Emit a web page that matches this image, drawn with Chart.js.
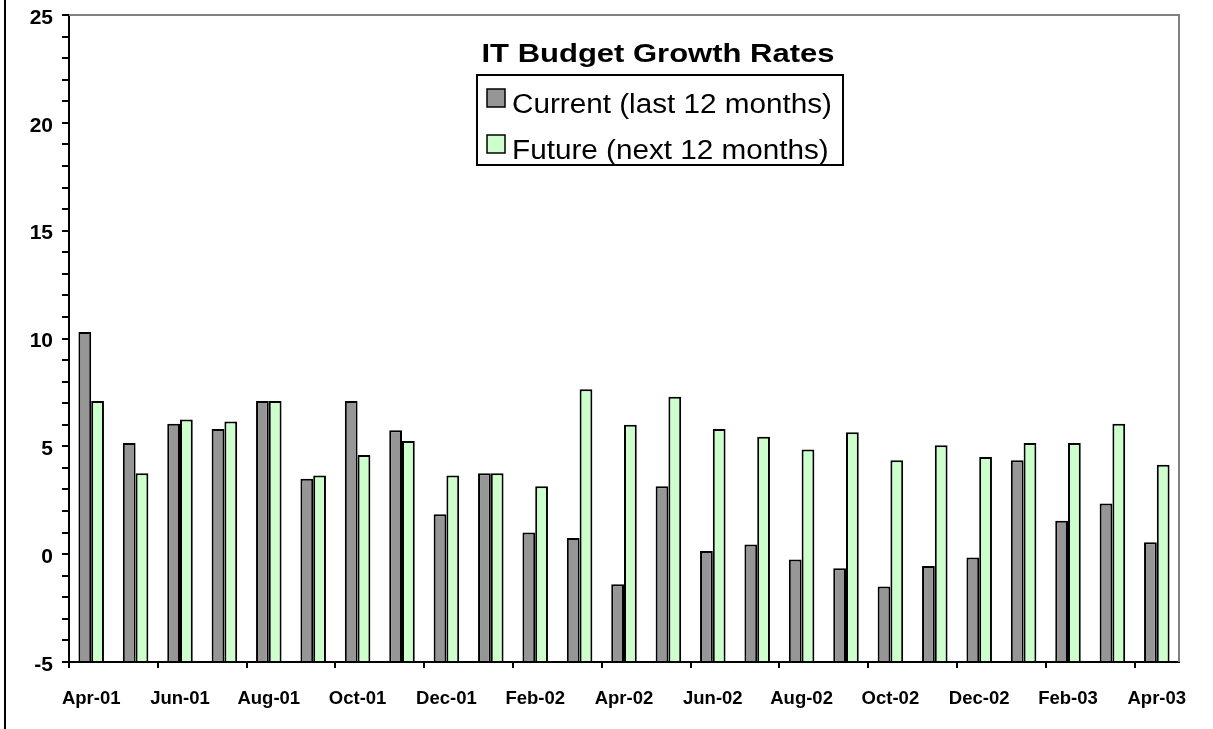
<!DOCTYPE html>
<html>
<head>
<meta charset="utf-8">
<script src="https://cdn.jsdelivr.net/npm/chart.js@4"></script>
<style>
  body { margin: 0; background: #fff; }
  canvas { display: block; }
</style>
</head>
<body>
<canvas id="budget-chart" width="1213" height="729"></canvas>
<script>
// months, Apr-01 .. Apr-03
const months = ['Apr-01', 'May-01', 'Jun-01', 'Jul-01', 'Aug-01', 'Sep-01', 'Oct-01', 'Nov-01',
  'Dec-01', 'Jan-02', 'Feb-02', 'Mar-02', 'Apr-02', 'May-02', 'Jun-02', 'Jul-02', 'Aug-02',
  'Sep-02', 'Oct-02', 'Nov-02', 'Dec-02', 'Jan-03', 'Feb-03', 'Mar-03', 'Apr-03'];

// growth rates
const currentRates = [10.3, 5.15, 6.05, 5.8, 7.1, 3.5, 7.1, 5.75, 1.85, 3.75, 1.0, 0.75, -1.4,
  3.15, 0.15, 0.45, -0.25, -0.65, -1.5, -0.55, -0.15, 4.35, 1.55, 2.35, 0.55];
const futureRates = [7.1, 3.75, 6.25, 6.15, 7.1, 3.65, 4.6, 5.25, 3.65, 3.75, 3.15, 7.65, 6.0,
  7.3, 5.8, 5.45, 4.85, 5.65, 4.35, 5.05, 4.5, 5.15, 5.15, 6.05, 4.15];

const chartTitle = 'IT Budget Growth Rates';
const seriesNames = ['Current (last 12 months)', 'Future (next 12 months)'];

// draws the title + boxed legend inside the plot, plus the grey plot frame
const excelFrame = {
  id: 'excelFrame',
  afterDraw(chart) {
    const ctx = chart.ctx;
    const a = chart.chartArea;
    ctx.save();

    ctx.strokeStyle = '#808080';
    ctx.lineWidth = 2;
    ctx.beginPath();
    ctx.moveTo(a.left, a.top);
    ctx.lineTo(a.right, a.top);
    ctx.lineTo(a.right, a.bottom);
    ctx.stroke();

    ctx.strokeStyle = '#000';
    ctx.beginPath();
    ctx.moveTo(5, 0);
    ctx.lineTo(5, chart.height);
    ctx.stroke();

    // title
    ctx.fillStyle = '#000';
    ctx.textBaseline = 'alphabetic';
    ctx.font = 'bold 25px "Liberation Sans", Arial, sans-serif';
    let w = ctx.measureText(chartTitle).width;
    let sx = 353 / w;
    ctx.save();
    ctx.translate(658 - 353 / 2, 62);
    ctx.scale(sx, 1);
    ctx.fillText(chartTitle, 0, 0);
    ctx.restore();

    // legend box
    ctx.fillStyle = '#fff';
    ctx.fillRect(477, 75, 366, 90);
    ctx.strokeStyle = '#000';
    ctx.lineWidth = 2;
    ctx.strokeRect(477, 75, 366, 90);

    ctx.font = '27px "Liberation Sans", Arial, sans-serif';
    sx = 320 / ctx.measureText(seriesNames[0]).width;
    const rows = [89, 135];
    chart.data.datasets.forEach((ds, i) => {
      const y = rows[i];
      ctx.fillStyle = ds.backgroundColor;
      ctx.fillRect(487, y, 18, 18);
      ctx.lineWidth = 1.5;
      ctx.strokeRect(487, y, 18, 18);
      ctx.fillStyle = '#000';
      ctx.save();
      ctx.translate(512, y + 24);
      ctx.scale(sx, 1);
      ctx.fillText(ds.label, 0, 0);
      ctx.restore();
    });

    ctx.restore();
  }
};

const el = document.getElementById('budget-chart');
new Chart(el, {
  type: 'bar',
  data: {
    labels: months,
    datasets: [{
      label: seriesNames[0],
      data: currentRates,
      base: -5,
      backgroundColor: '#969696',
      borderColor: '#000',
      borderWidth: 2
    }, {
      label: seriesNames[1],
      data: futureRates,
      base: -5,
      backgroundColor: '#CCFFCC',
      borderColor: '#000',
      borderWidth: 2
    }]
  },
  options: {
    responsive: false,
    animation: false,
    devicePixelRatio: 1,
    layout: { padding: { top: 15, right: 34, left: 0, bottom: 0 } },
    datasets: {
      bar: { categoryPercentage: 0.575, barPercentage: 1.0 }
    },
    plugins: {
      legend: { display: false },
      title: { display: false },
      tooltip: { enabled: false }
    },
    scales: {
      x: {
        offset: true,
        afterFit(scale) {
          scale.height = 67;
          scale.paddingLeft = 0;
          scale.paddingRight = 0;
        },
        border: { color: '#000', width: 2 },
        grid: {
          offset: true,
          drawOnChartArea: false,
          tickLength: 6,
          lineWidth: 2,
          color: c => (c.index % 2 === 0 ? '#000' : 'rgba(0,0,0,0)')
        },
        ticks: {
          autoSkip: false,
          maxRotation: 0,
          padding: 20,
          color: '#000',
          font: { family: '"Liberation Sans", Arial, sans-serif', size: 18.5, weight: 'bold' },
          callback(v, i) { return i % 2 === 0 ? this.getLabelForValue(v) : ''; }
        }
      },
      y: {
        min: -5,
        max: 25,
        afterFit(scale) {
          scale.width = 69;
          scale.paddingTop = 0;
          scale.paddingBottom = 0;
        },
        border: { color: '#000', width: 2 },
        grid: {
          drawOnChartArea: false,
          tickLength: 7,
          lineWidth: 2,
          color: '#000'
        },
        ticks: {
          stepSize: 1,
          autoSkip: false,
          maxTicksLimit: 40,
          padding: 9,
          labelOffset: 3,
          color: '#000',
          font: { family: '"Liberation Sans", Arial, sans-serif', size: 21, weight: 'bold' },
          callback: v => (v % 5 === 0 ? v : '')
        }
      }
    }
  },
  plugins: [excelFrame]
});
</script>
</body>
</html>
